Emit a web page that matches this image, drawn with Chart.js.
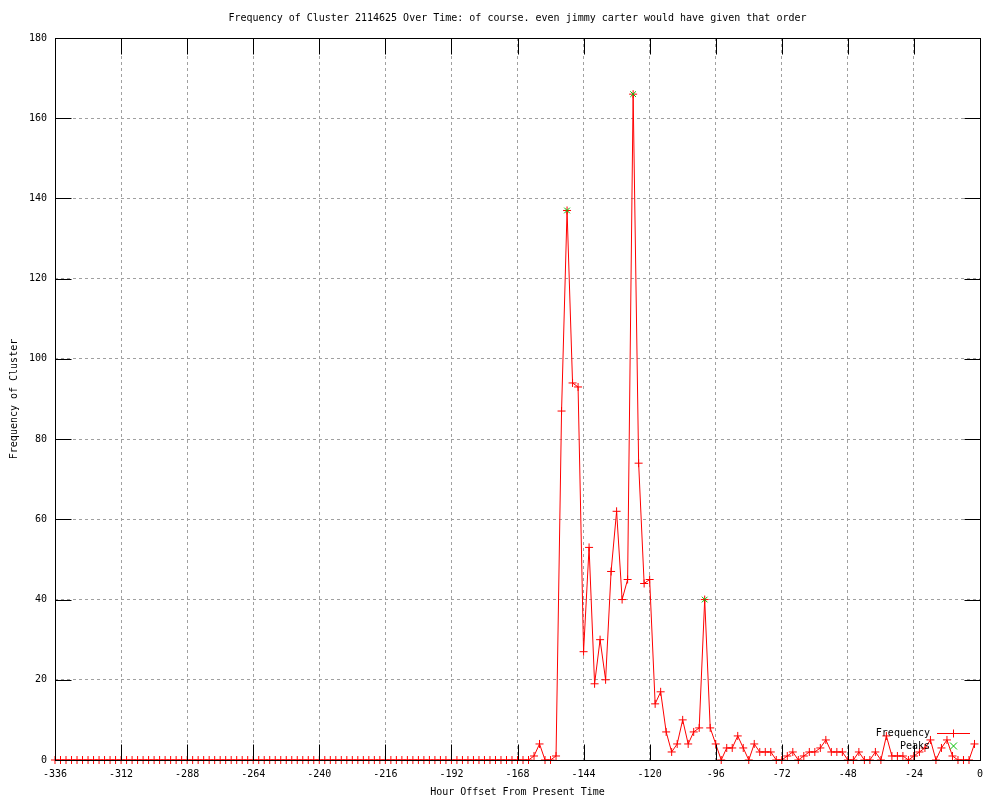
<!DOCTYPE html>
<html>
<head>
<meta charset="utf-8">
<title>Frequency of Cluster 2114625 Over Time</title>
<script src="https://cdn.jsdelivr.net/npm/chart.js@4.4.1/dist/chart.umd.min.js"></script>
<style>
    html, body { margin: 0; padding: 0; background: #ffffff; }
    canvas { display: block; }
</style>
</head>
<body>
<canvas id="clusterChart" width="1000" height="800"></canvas>
<script>
// Hours go from -336 to -2, one sample every 2 hours
const FIRST_HOUR = -336;
const HOUR_STEP = 2;

const frequency = [
    0, 0, 0, 0, 0, 0, 0, 0, 0, 0, 0, 0, 0, 0, 0, 0, 0, 0, 0, 0,   // -336 .. -298
    0, 0, 0, 0, 0, 0, 0, 0, 0, 0, 0, 0, 0, 0, 0, 0, 0, 0, 0, 0,   // -296 .. -258
    0, 0, 0, 0, 0, 0, 0, 0, 0, 0, 0, 0, 0, 0, 0, 0, 0, 0, 0, 0,   // -256 .. -218
    0, 0, 0, 0, 0, 0, 0, 0, 0, 0, 0, 0, 0, 0, 0, 0, 0, 0, 0, 0,   // -216 .. -178
    0, 0, 0, 0, 0, 0, 0,                                           // -176 .. -164
    1, 4, 0, 0, 1, 87,                                             // -162 .. -152
    137, 94, 93, 27, 53, 19, 30, 20, 47, 62, 40, 45, 166,          // -150 .. -126
    74, 44, 45, 14, 17, 7, 2, 4, 10, 4, 7, 8, 40,                  // -124 .. -100
    8, 4, 0, 3, 3, 6, 3, 0, 4, 2, 2, 2, 0, 0, 1, 2, 0, 1, 2, 2,    // -98 .. -60
    3, 5, 2, 2, 2, 0, 0, 2, 0, 0, 2, 0, 6, 1, 1, 1, 0, 1, 2, 3,    // -58 .. -20
    5, 0, 3, 5, 1, 0, 0, 0, 4                                      // -18 .. -2
];
const hours = frequency.map((_, i) => FIRST_HOUR + i * HOUR_STEP);

const peakHours = [-150, -126, -100];
const peakValues = [137, 166, 40];

const xTicks = [-336, -312, -288, -264, -240, -216, -192, -168, -144, -120, -96, -72, -48, -24, 0];
const yTicks = [0, 20, 40, 60, 80, 100, 120, 140, 160, 180];

const FONT = "'DejaVu Sans Mono', 'Liberation Mono', monospace";
const TICK_LEN = 16;

// Border box plus inward tic marks on all four sides, gnuplot style
const gnuplotFrame = {
    id: 'gnuplotFrame',
    afterDatasetsDraw(chart) {
        const { ctx, chartArea: a, scales: { x, y } } = chart;
        const L = Math.round(a.left) + 0.5, R = Math.round(a.right) + 0.5;
        const T = Math.round(a.top) + 0.5, B = Math.round(a.bottom) + 0.5;
        ctx.save();
        ctx.strokeStyle = '#000000';
        ctx.lineWidth = 1;
        ctx.beginPath();
        xTicks.forEach(v => {
            const px = Math.round(x.getPixelForValue(v)) + 0.5;
            ctx.moveTo(px, B); ctx.lineTo(px, B - TICK_LEN);
            ctx.moveTo(px, T); ctx.lineTo(px, T + TICK_LEN);
        });
        yTicks.forEach(v => {
            const py = Math.round(y.getPixelForValue(v)) + 0.5;
            ctx.moveTo(L, py); ctx.lineTo(L + TICK_LEN, py);
            ctx.moveTo(R, py); ctx.lineTo(R - TICK_LEN, py);
        });
        ctx.stroke();
        ctx.strokeRect(L, T, R - L, B - T);
        ctx.restore();
    },
    afterDraw(chart) {
        // Key in the lower right corner: text, then sample
        const { ctx } = chart;
        const textRight = 930, x0 = 937, x1 = 970, mid = 953.5;
        ctx.save();
        ctx.font = '10px ' + FONT;
        ctx.fillStyle = '#000000';
        ctx.textAlign = 'right';
        ctx.textBaseline = 'middle';
        ctx.fillText('Frequency', textRight, 733);
        ctx.fillText('Peaks', textRight, 746);

        ctx.lineWidth = 1;
        ctx.strokeStyle = 'rgb(255, 0, 0)';
        ctx.beginPath();
        ctx.moveTo(x0, 733.5);
        ctx.lineTo(x1, 733.5);
        ctx.moveTo(mid, 729.5);
        ctx.lineTo(mid, 737.5);
        ctx.stroke();

        ctx.strokeStyle = 'rgb(0, 192, 0)';
        ctx.beginPath();
        ctx.moveTo(mid - 3.5, 742.5); ctx.lineTo(mid + 3.5, 749.5);
        ctx.moveTo(mid - 3.5, 749.5); ctx.lineTo(mid + 3.5, 742.5);
        ctx.stroke();
        ctx.restore();
    }
};

document.addEventListener('DOMContentLoaded', function() {
    Chart.defaults.font.family = FONT;
    Chart.defaults.font.size = 10;
    Chart.defaults.color = '#000000';

    const ctx = document.getElementById('clusterChart').getContext('2d');
    new Chart(ctx, {
        type: 'line',
        data: {
            datasets: [{
                label: 'Frequency',
                data: hours.map((h, i) => ({ x: h, y: frequency[i] })),
                borderColor: '#ff0000',
                backgroundColor: '#ff0000',
                borderWidth: 1,
                tension: 0,
                pointStyle: 'cross',
                pointRadius: 4,
                pointBorderWidth: 1,
                pointBorderColor: '#ff0000',
                clip: false,
                order: 1
            }, {
                label: 'Peaks',
                data: peakHours.map((h, i) => ({ x: h, y: peakValues[i] })),
                showLine: false,
                borderColor: '#00c000',
                backgroundColor: '#00c000',
                pointStyle: 'crossRot',
                pointRadius: 4,
                pointBorderWidth: 1,
                clip: false,
                order: 0
            }]
        },
        options: {
            responsive: false,
            animation: false,
            devicePixelRatio: 1,
            layout: { padding: { left: 0, right: 20, top: 0, bottom: 0 } },
            plugins: {
                legend: { display: false },
                tooltip: { enabled: false },
                title: {
                    display: true,
                    fullSize: false,
                    text: 'Frequency of Cluster 2114625 Over Time: of course. even jimmy carter would have given that order',
                    font: { size: 10, weight: 'normal' },
                    color: '#000000',
                    padding: { top: 12, bottom: 14 }
                }
            },
            scales: {
                x: {
                    type: 'linear',
                    min: -336,
                    max: 0,
                    afterBuildTicks: s => { s.ticks = xTicks.map(v => ({ value: v })); },
                    afterFit: s => { s.height = 40; },
                    grid: { color: '#a0a0a0', drawTicks: false },
                    border: { display: false, dash: [3, 3] },
                    ticks: { padding: 8, maxRotation: 0, autoSkip: false, color: '#000000' },
                    title: {
                        display: true,
                        text: 'Hour Offset From Present Time',
                        color: '#000000',
                        padding: { top: 0, bottom: 2 }
                    }
                },
                y: {
                    min: 0,
                    max: 180,
                    afterBuildTicks: s => { s.ticks = yTicks.map(v => ({ value: v })); },
                    afterFit: s => { s.width = 55; },
                    grid: { color: '#a0a0a0', drawTicks: false },
                    border: { display: false, dash: [3, 3] },
                    ticks: { padding: 8, color: '#000000' },
                    title: {
                        display: true,
                        text: 'Frequency of Cluster',
                        color: '#000000',
                        padding: { top: 8, bottom: 0 }
                    }
                }
            }
        },
        plugins: [gnuplotFrame]
    });
});
</script>
</body>
</html>
